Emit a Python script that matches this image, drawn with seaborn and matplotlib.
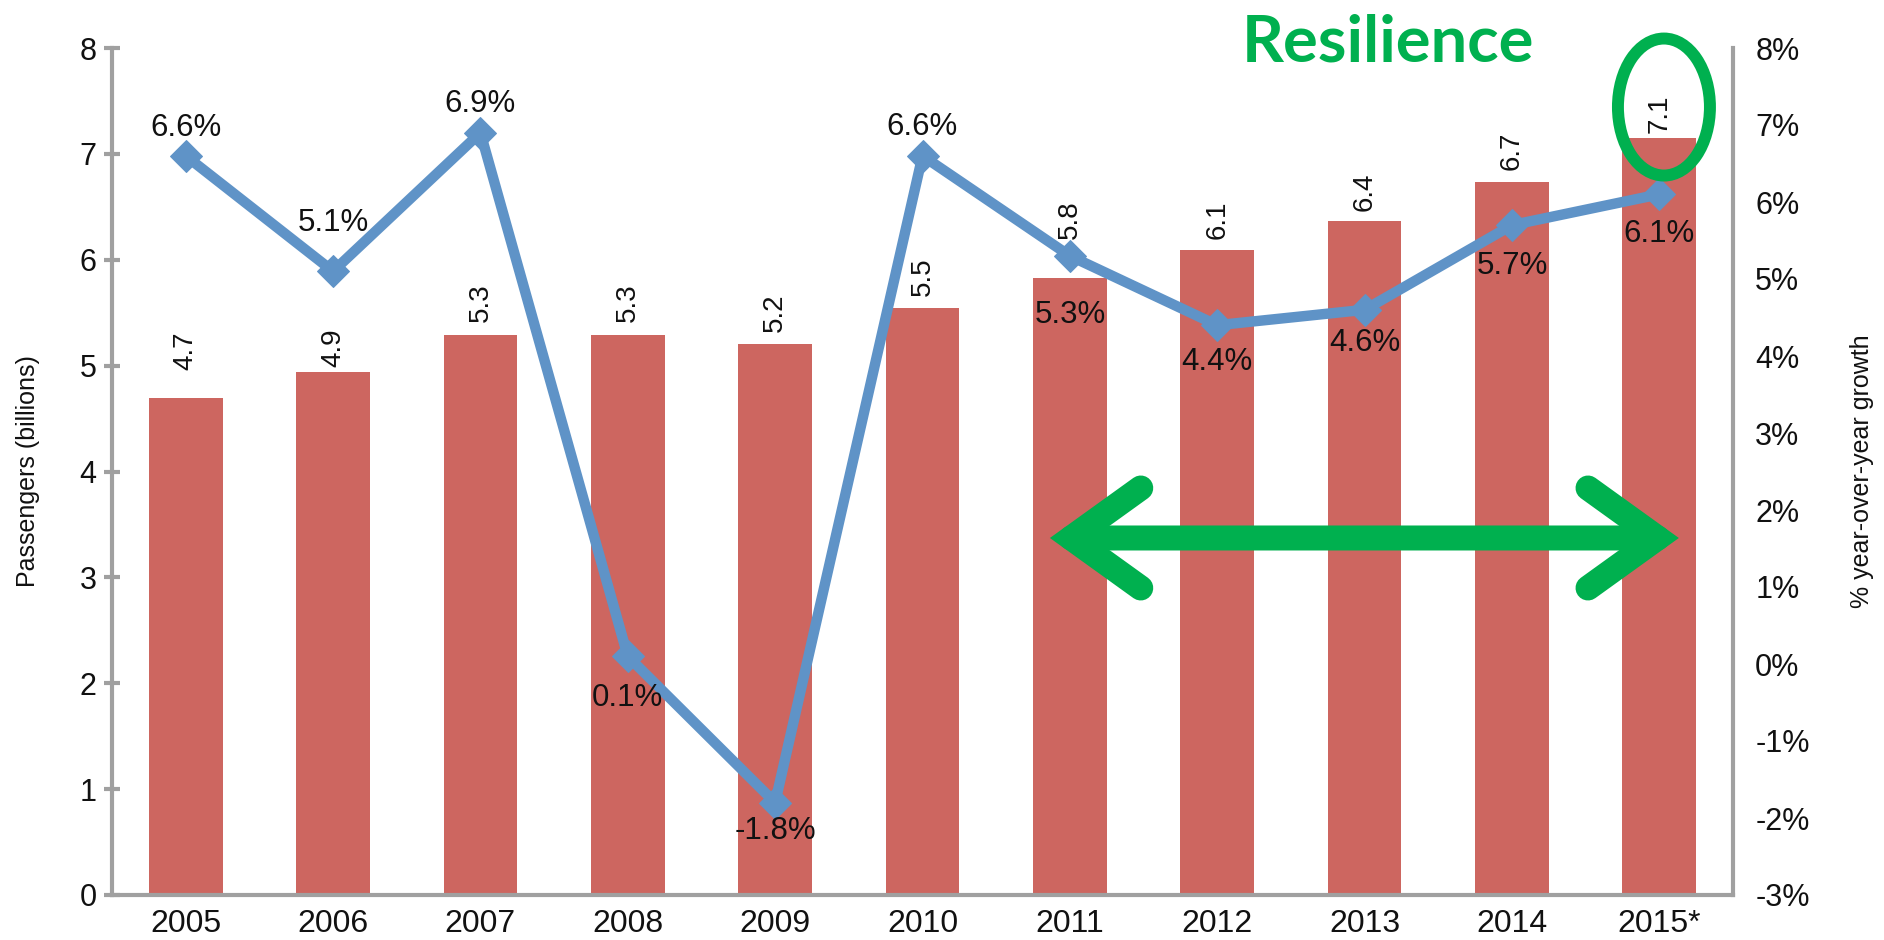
import numpy as np
import pandas as pd
import matplotlib
matplotlib.use("Agg")
import matplotlib.pyplot as plt
import seaborn as sns
from matplotlib.patches import Ellipse, FancyArrowPatch, ArrowStyle
from matplotlib import font_manager as fm

# ---------------- data ----------------
years = ["2005", "2006", "2007", "2008", "2009", "2010", "2011", "2012", "2013", "2014", "2015*"]
passengers = [4.69, 4.94, 5.29, 5.29, 5.20, 5.54, 5.83, 6.09, 6.37, 6.73, 7.15]
passenger_labels = ["4.7", "4.9", "5.3", "5.3", "5.2", "5.5", "5.8", "6.1", "6.4", "6.7", "7.1"]
growth = [6.6, 5.1, 6.9, 0.1, -1.8, 6.6, 5.3, 4.4, 4.6, 5.7, 6.1]
growth_labels = ["6.6%", "5.1%", "6.9%", "0.1%", "-1.8%", "6.6%", "5.3%", "4.4%", "4.6%", "5.7%", "6.1%"]
left_ticks = [0, 1, 2, 3, 4, 5, 6, 7, 8]
right_ticks = [-3, -2, -1, 0, 1, 2, 3, 4, 5, 6, 7, 8]

# label placement (pixels; + above)
bar_label_gap = [48, 24, 32, 32, 32, 32, 58, 30, 29, 32, 24]
growth_label_off = [28, 48, 29, -42, -28, 29, -59, -37, -33, -41, -40]

BAR_C = "#CD6660"
LINE_C = "#5F93C7"
GREEN = "#00B04F"
GREY = "#A0A0A0"
TXT = "#111111"

sns.set_theme(style="white")
plt.rcParams["font.family"] = ["Liberation Sans", "DejaVu Sans"]

names = {f.name for f in fm.fontManager.ttflist}
if "Liberation Sans Narrow" in names:
    NARROW = ["Liberation Sans Narrow", "Liberation Sans"]
    NSIZE = 21
else:
    NARROW = ["Liberation Sans", "DejaVu Sans"]
    NSIZE = 18

DPI = 100
fig = plt.figure(figsize=(18.84, 9.40), dpi=DPI)
ax = fig.add_axes([112 / 1884, 1 - 895 / 940, (1733 - 112) / 1884, (895 - 48) / 940])

df = pd.DataFrame({"year": years, "passengers": passengers})
sns.barplot(data=df, x="year", y="passengers", color=BAR_C, saturation=1,
            width=0.5, ax=ax, linewidth=0, zorder=2)
ax.set_xlim(-0.5, len(years) - 0.5)
ax.set_ylim(0, 8)
ax.set_yticks(left_ticks)
ax.set_yticklabels([str(t) for t in left_ticks])
ax.set_xlabel("")
ax.set_ylabel("Passengers (billions)", family=NARROW, fontsize=NSIZE, color=TXT)
ax.yaxis.set_label_coords((28 - 112) / 1621, 0.5)
ax.yaxis.label.set_va("center")

ax2 = ax.twinx()
ax2.set_ylim(-3, 8)
sns.lineplot(x=np.arange(len(years)), y=growth, ax=ax2, color=LINE_C, lw=7.5,
             marker="D", markersize=16, markeredgecolor=LINE_C, zorder=3)
ax2.set_yticks(right_ticks)
ax2.set_yticklabels([f"{t}%" for t in right_ticks])
ax2.set_ylabel("% year-over-year growth", family=NARROW, fontsize=NSIZE, color=TXT)
ax2.yaxis.set_label_coords((1862 - 112) / 1621, 0.5)
ax2.yaxis.label.set_va("center")

for a in (ax, ax2):
    for s in a.spines.values():
        s.set_color(GREY)
        s.set_linewidth(3)
    a.spines["top"].set_visible(False)
    a.grid(False)

ax.tick_params(axis="y", direction="inout", length=12, width=3, color=GREY,
               labelsize=22, labelcolor=TXT, pad=5, left=True)
ax.tick_params(axis="x", length=0, labelsize=23, labelcolor=TXT, pad=10)
ax2.tick_params(axis="y", length=0, labelsize=22, labelcolor=TXT, pad=16, right=True)
ax.spines["right"].set_visible(False)
ax2.spines["left"].set_visible(False)
ax2.spines["bottom"].set_visible(False)

px2pt = 72 / DPI
# bar value labels (rotated)
for i, (v, lab) in enumerate(zip(passengers, passenger_labels)):
    ax.annotate(lab, xy=(i, v), xytext=(0, bar_label_gap[i] * px2pt),
                textcoords="offset points", rotation=90, ha="center", va="center",
                fontsize=20, color=TXT, zorder=4)

# growth labels
for i, (g, lab) in enumerate(zip(growth, growth_labels)):
    ax2.annotate(lab, xy=(i, g), xytext=(0, growth_label_off[i] * px2pt),
                 textcoords="offset points", ha="center", va="center",
                 fontsize=22.5, color=TXT, zorder=5)

# highlight annotations
ell = Ellipse((0.9574, 0.9303), width=92 / 1621, height=137 / 847, transform=ax2.transAxes,
              fill=False, edgecolor=GREEN, lw=8.6, clip_on=False, zorder=10)
ax2.add_patch(ell)

arr = FancyArrowPatch((0.5786, 0.4215), (0.9666, 0.4215), transform=ax2.transAxes,
                      arrowstyle=ArrowStyle("<->", head_length=50, head_width=36),
                      mutation_scale=1, color=GREEN, lw=18, shrinkA=0, shrinkB=0,
                      joinstyle="miter", capstyle="round", clip_on=False, zorder=10)
ax2.add_patch(arr)

fig.text(1388 / 1884, 1 - 61 / 940, "Resilience", ha="center", va="baseline",
         fontsize=47, fontweight="bold", color=GREEN, family=["Lato", "DejaVu Sans"])

fig.savefig("out.png", dpi=DPI, facecolor="white")
